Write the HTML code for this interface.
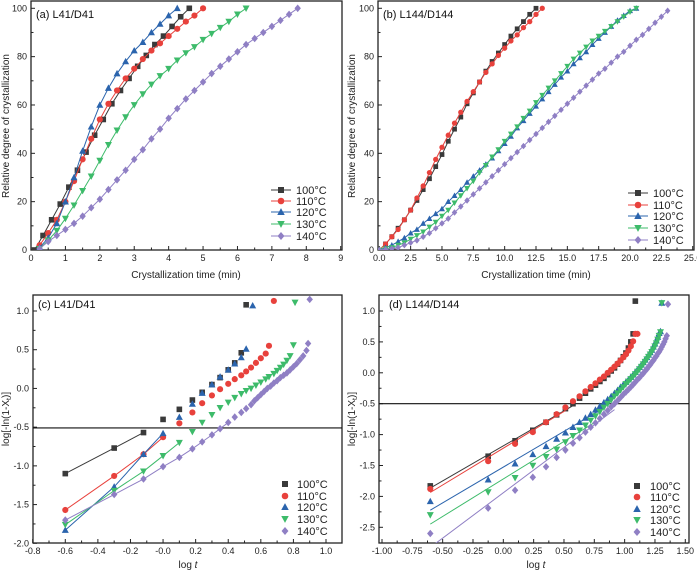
<!DOCTYPE html>
<html><head><meta charset="utf-8"><style>
html,body{margin:0;padding:0;background:#fff}
svg{display:block;font-family:"Liberation Sans",Arial,sans-serif}
</style></head><body>
<svg id="fig" width="697" height="573" viewBox="0 0 697 573" xmlns="http://www.w3.org/2000/svg"></svg>
<script>
const seriesNames = ["100°C","110°C","120°C","130°C","140°C"];
const seriesColors = ["#3a3a3a","#e8413c","#2b64ad","#3dbb6a","#8f7fc4"];
const seriesShapes = ["square","circle","tri-up","tri-down","diamond"];

// Panel (a): time starts / step, relative crystallinity (%)
const aStart = [0.1, 0.25, 0.25, 0.25, 0.25];
const aStep = [0.25, 0.25, 0.25, 0.25, 0.25];
const aVal100 = [0,6,12.5,19,26,33,40.5,47.5,54,60.5,66,71,76,80.5,85,88.5,92.5,96.5,100];
const aVal110 = [2,7,12.5,20,28.5,37.5,46,54,60.5,66,71,75,79,82.5,85.5,88.5,91.5,94.5,97,100];
const aVal120 = [1,5,11,20,30,41,51,60,67,73,78,82.5,86,90,93.5,97,100];
const aVal130 = [0.5,4,8,13,18.5,24.5,30.5,37,43.5,49.5,55,60,64.5,68.5,72,75,78.5,81.5,84,87,89.5,92,94.5,97.5,100];
const aVal140 = [0.5,3.5,6,8.5,11,14,17.5,21,25,29,33,37.5,41.5,46,50,54.5,58.5,62.5,66,69.5,73,76,79,82,85,87.5,90,92.5,95,97.5,100];

// Panel (b)
const bStart = [0, 0, 0, 0, 0];
const bStep = [0.5, 0.5, 0.5, 0.5, 0.5];
const bVal100 = [0,2.5,5.5,9,12.5,16.5,20.5,25,29.5,34.5,39.5,45,50,55,60.5,65,69.5,74,78,81.5,85,88.5,91.5,94.5,97.5,100];
const bVal110 = [0,2.5,5.5,8.5,12.5,16.5,21.5,26.5,32,37.5,42.5,47.5,52.5,57,61.5,65.5,69.5,73.5,77,80.5,83.5,86.5,89,92,94.5,97.5,100];
const bVal120 = [0,1,2,3.5,5,7,8.5,11,13,15,17,20,22.5,25,28,30.5,33,35.5,38,41,44,47,50.5,53.5,56.5,59.5,62.5,65.5,68.5,71.5,74,77,79.5,82,85,87.5,90,92.5,95,97,99,100];
const bVal130 = [0,0.5,1,2,3,4.5,6,7.5,9.5,11.5,14,16.5,19.5,22.5,25.5,28.5,32,35,38.5,41.5,45,48,51,54.5,57.5,61,64,67,70,73,76,79,81.5,84,86.5,88.5,90.5,92.5,94.5,96.5,98.5,100];
const bVal140 = [0,0.2,0.5,1,2,3,4,5.5,7,9,11,13,15.5,18,20.5,23,25.5,28,30.5,33,35.5,38,40.5,43,45.5,48,50.5,53,55.5,58,60.5,63,65.5,68,70.5,73,75,77.5,80,82,84.5,87,89,91.5,94,96.5,99];

// Panel (c): log t positions and log[-ln(1-Xt)]
const cX100 = [-0.6,-0.3,-0.12,0,0.1,0.18,0.24,0.3,0.35,0.4,0.44,0.48,0.51];
const cY100 = [-1.1,-0.77,-0.57,-0.4,-0.27,-0.15,-0.05,0.05,0.14,0.24,0.33,0.46,1.08];
const cX110 = [-0.6,-0.3,-0.12,0,0.1,0.18,0.24,0.3,0.35,0.4,0.44,0.48,0.51,0.54,0.57,0.6,0.63,0.65,0.68];
const cY110 = [-1.57,-1.13,-0.85,-0.63,-0.45,-0.31,-0.19,-0.09,-0.01,0.06,0.12,0.17,0.22,0.27,0.33,0.39,0.45,0.55,1.13];
const cX120 = [-0.6,-0.3,-0.12,0,0.1,0.18,0.24,0.3,0.35,0.4,0.44,0.48,0.51,0.55];
const cY120 = [-1.83,-1.27,-0.85,-0.58,-0.37,-0.2,-0.06,0.05,0.15,0.24,0.32,0.4,0.51,1.07];
const cX130 = [-0.6,-0.3,-0.12,0,0.1,0.18,0.24,0.3,0.35,0.4,0.44,0.48,0.51,0.54,0.57,0.6,0.63,0.65,0.68,0.7,0.72,0.74,0.76,0.78,0.8,0.81];
const cY130 = [-1.76,-1.32,-1.07,-0.87,-0.7,-0.56,-0.44,-0.34,-0.25,-0.18,-0.12,-0.07,-0.03,0,0.04,0.08,0.12,0.15,0.19,0.23,0.27,0.31,0.36,0.42,0.56,1.11];
const cX140 = [-0.6,-0.3,-0.12,0,0.1,0.18,0.24,0.3,0.35,0.4,0.44,0.48,0.51,0.54,0.56,0.58,0.6,0.62,0.64,0.66,0.68,0.7,0.72,0.74,0.76,0.78,0.8,0.82,0.84,0.86,0.88,0.89,0.9];
const cY140 = [-1.7,-1.37,-1.17,-1.01,-0.89,-0.78,-0.69,-0.6,-0.52,-0.44,-0.37,-0.31,-0.26,-0.21,-0.16,-0.12,-0.08,-0.04,0,0.03,0.07,0.1,0.14,0.17,0.2,0.24,0.28,0.32,0.37,0.42,0.49,0.58,1.15];
const cFitN = [3,4,4,5,10];

// Panel (d): times start 0.25 min step 0.5, values log[-ln(1-Xt)]
const dStart = [0.25,0.25,0.25,0.25,0.25];
const dStep = [0.5,0.5,0.5,0.5,0.5];
const dVal100 = [-1.83,-1.35,-1.1,-0.93,-0.8,-0.68,-0.58,-0.5,-0.41,-0.33,-0.26,-0.2,-0.14,-0.09,-0.03,0.03,0.08,0.14,0.2,0.26,0.32,0.4,0.5,0.63,1.16];
const dVal110 = [-1.88,-1.43,-1.15,-0.96,-0.8,-0.67,-0.56,-0.46,-0.38,-0.3,-0.23,-0.17,-0.11,-0.06,0,0.05,0.1,0.15,0.2,0.25,0.3,0.36,0.43,0.51,0.63,0.63];
const dVal120 = [-2.08,-1.73,-1.47,-1.32,-1.19,-1.07,-0.97,-0.88,-0.8,-0.73,-0.67,-0.6,-0.54,-0.48,-0.43,-0.38,-0.33,-0.28,-0.23,-0.19,-0.15,-0.11,-0.07,-0.03,0.01,0.05,0.09,0.13,0.17,0.21,0.25,0.29,0.33,0.37,0.42,0.47,0.52,0.58,0.64,0.67,1.13];
const dVal130 = [-2.3,-1.93,-1.7,-1.5,-1.36,-1.24,-1.12,-1.02,-0.93,-0.85,-0.77,-0.7,-0.63,-0.56,-0.5,-0.44,-0.38,-0.33,-0.28,-0.23,-0.18,-0.14,-0.1,-0.06,-0.02,0.02,0.06,0.1,0.14,0.18,0.22,0.26,0.3,0.34,0.38,0.43,0.48,0.54,0.6,0.66,1.13];
const dVal140 = [-2.6,-2.19,-1.9,-1.69,-1.52,-1.37,-1.25,-1.14,-1.05,-0.96,-0.88,-0.81,-0.74,-0.67,-0.61,-0.55,-0.5,-0.45,-0.4,-0.35,-0.31,-0.27,-0.23,-0.19,-0.15,-0.11,-0.08,-0.04,-0.01,0.03,0.06,0.1,0.13,0.17,0.2,0.24,0.27,0.31,0.34,0.38,0.42,0.46,0.5,0.55,0.6,1.11];
const dFitN = [8,7,14,12,17];

const NS = "http://www.w3.org/2000/svg";
const svg = document.getElementById("fig");
function mk(tag, attrs, parent){const e=document.createElementNS(NS,tag);for(const k in attrs)e.setAttribute(k,attrs[k]);(parent||svg).appendChild(e);return e;}
function lin(d0,d1,r0,r1){return v=>r0+(v-d0)*(r1-r0)/(d1-d0);}
function marker(g,shape,x,y,s,color){
  let e;
  if(shape==="square") e=mk("rect",{x:x-s,y:y-s,width:2*s,height:2*s,fill:color},g);
  else if(shape==="circle") e=mk("circle",{cx:x,cy:y,r:s*1.1,fill:color},g);
  else if(shape==="tri-up") e=mk("polygon",{points:`${x},${y-s*1.3} ${x-s*1.25},${y+s} ${x+s*1.25},${y+s}`,fill:color},g);
  else if(shape==="tri-down") e=mk("polygon",{points:`${x},${y+s*1.3} ${x-s*1.25},${y-s} ${x+s*1.25},${y-s}`,fill:color},g);
  else e=mk("polygon",{points:`${x},${y-s*1.35} ${x+s*1.15},${y} ${x},${y+s*1.35} ${x-s*1.15},${y}`,fill:color},g);
  return e;
}
function fmt(v,dec){return v.toFixed(dec);}

function panel(cfg){
  const g=mk("g",{});
  
  
  const X=lin(cfg.xd[0],cfg.xd[1],cfg.xr[0],cfg.xr[1]);
  const Y=lin(cfg.yd[0],cfg.yd[1],cfg.yr[0],cfg.yr[1]);
  const f=cfg.frame;
  const clipId="clip-"+cfg.name;
  const cp=mk("clipPath",{id:clipId},g);
  mk("rect",{x:f[0],y:f[1],width:f[2]-f[0],height:f[3]-f[1]},cp);
  // ticks
  const tg=mk("g",{stroke:"#222","stroke-width":1},g);
  
  
  for(let v=cfg.xt[0]; v<=cfg.xt[1]+1e-9; v+=cfg.xt[2]/2){
    const x=X(v); if(x<f[0]-0.5||x>f[2]+0.5) continue;
    const major=Math.abs(Math.round((v-cfg.xt[0])/cfg.xt[2])-(v-cfg.xt[0])/cfg.xt[2])<1e-6;
    mk("line",{x1:x,x2:x,y1:f[3],y2:f[3]-(major?4:2.5)},tg);
    if(major){const t=mk("text",{x:x,y:f[3]+11,"font-size":9,"text-anchor":"middle",fill:"#222"},g);t.textContent=fmt(v,cfg.xdec);
      
      }
  }
  for(let v=cfg.yt[0]; v<=cfg.yt[1]+1e-9; v+=cfg.yt[2]/2){
    const y=Y(v); if(y<f[1]-0.5||y>f[3]+0.5) continue;
    const major=Math.abs(Math.round((v-cfg.yt[0])/cfg.yt[2])-(v-cfg.yt[0])/cfg.yt[2])<1e-6;
    mk("line",{x1:f[0],x2:f[0]+(major?4:2.5),y1:y,y2:y},tg);
    if(major){const t=mk("text",{x:f[0]-4,y:y+3,"font-size":9,"text-anchor":"end",fill:"#222"},g);t.textContent=fmt(v,cfg.ydec);
      
      }
  }
  const fr=mk("rect",{x:f[0],y:f[1],width:f[2]-f[0],height:f[3]-f[1],fill:"none",stroke:"#222","stroke-width":1.3},g);
  
  
  const pg=mk("g",{"clip-path":`url(#${clipId})`},g);
  if(cfg.hline!==undefined){
    const h=mk("line",{x1:f[0],x2:f[2],y1:Y(cfg.hline),y2:Y(cfg.hline),stroke:"#111","stroke-width":1.2},pg);
    
    
  }
  cfg.series.forEach((s,i)=>{
    const sg=mk("g",{},pg);
    
    
    const col=seriesColors[i];
    if(cfg.mode==="line"){
      mk("polyline",{points:s.x.map((x,k)=>X(x)+","+Y(s.y[k])).join(" "),fill:"none",stroke:col,"stroke-width":1},sg);
    } else if(cfg.mode==="poly"){
      const n=cfg.fitN[i];
      mk("polyline",{points:s.x.slice(0,n).map((x,k)=>X(x)+","+Y(s.y[k])).join(" "),fill:"none",stroke:col,"stroke-width":1},sg);
    } else if(cfg.mode==="fit"){
      const n=cfg.fitN[i]; const xs=s.x.slice(0,n), ys=s.y.slice(0,n);
      const mx=xs.reduce((a,b)=>a+b)/n, my=ys.reduce((a,b)=>a+b)/n;
      let sxy=0,sxx=0; xs.forEach((x,k)=>{sxy+=(x-mx)*(ys[k]-my);sxx+=(x-mx)*(x-mx);});
      const b=sxy/sxx, a=my-b*mx;
      mk("line",{x1:X(xs[0]),y1:Y(a+b*xs[0]),x2:X(xs[n-1]),y2:Y(a+b*xs[n-1]),stroke:col,"stroke-width":1},sg);
    }
    s.x.forEach((x,k)=>{const m=marker(sg,seriesShapes[i],X(x),Y(s.y[k]),cfg.ms,col);
      
      });
  });
  // legend
  const lg=mk("g",{},g);
  
  
  seriesNames.forEach((n,i)=>{
    const y=cfg.leg.y[i];
    const eg=mk("g",{},lg);
    
    
    if(cfg.leg.line) mk("line",{x1:cfg.leg.mx-10,x2:cfg.leg.mx+10,y1:y,y2:y,stroke:seriesColors[i],"stroke-width":1},eg);
    marker(eg,seriesShapes[i],cfg.leg.mx,y,3,seriesColors[i]);
    const t=mk("text",{x:cfg.leg.tx,y:y+4,"font-size":11,fill:"#222"},eg);t.textContent=n;
  });
  const tt=mk("text",{x:cfg.title[0],y:cfg.title[1],"font-size":11,fill:"#111"},g);tt.textContent=cfg.titleText;
  
  
  const xt=mk("text",{x:cfg.xlab[0],y:cfg.xlab[1],"font-size":10,"text-anchor":"middle",fill:"#222"},g);
  xt.innerHTML=cfg.xlabText;
  
  
  const yt=mk("text",{x:0,y:0,"font-size":10,"text-anchor":"middle",fill:"#222",transform:`translate(${cfg.ylab[0]},${cfg.ylab[1]}) rotate(-90)`},g);
  yt.innerHTML=cfg.ylabText;
  
  
}
function byStep(start,step,vals){return {x:vals.map((v,k)=>start+k*step),y:vals};}
function byLog(start,step,vals){return {x:vals.map((v,k)=>Math.log10(start+k*step)),y:vals};}

const aVals=[aVal100,aVal110,aVal120,aVal130,aVal140];
const bVals=[bVal100,bVal110,bVal120,bVal130,bVal140];
const dVals=[dVal100,dVal110,dVal120,dVal130,dVal140];
const cXs=[cX100,cX110,cX120,cX130,cX140], cYs=[cY100,cY110,cY120,cY130,cY140];

panel({name:"panel-a",xd:[0,9],xr:[31,340.7],yd:[0,100],yr:[250,8.3],frame:[31,1,342,250],
  xt:[0,9,1],yt:[0,100,20],xdec:0,ydec:0,mode:"line",ms:2.8,
  series:aVals.map((v,i)=>byStep(aStart[i],aStep[i],v)),
  leg:{line:true,mx:281,tx:296,y:[190,201,212,224,236]},title:[36,18],titleText:"(a) L41/D41",
  xlab:[186,278],xlabText:"Crystallization time (min)",ylab:[9,126],ylabText:"Relative degree of crystallization"});
panel({name:"panel-b",xd:[0,25],xr:[379.3,692.7],yd:[0,100],yr:[250,8.3],frame:[378,1,694,250],
  xt:[0,25,2.5],yt:[0,100,20],xdec:1,ydec:0,mode:"line",ms:2.4,
  series:bVals.map((v,i)=>byStep(bStart[i],bStep[i],v)),
  leg:{line:true,mx:638,tx:653,y:[193,205,216,228,240]},title:[383,18],titleText:"(b) L144/D144",
  xlab:[536,278],xlabText:"Crystallization time (min)",ylab:[355,126],ylabText:"Relative degree of crystallization"});
panel({name:"panel-c",xd:[-0.8,1.0],xr:[32.7,326],yd:[-2,1],yr:[543.3,311],frame:[33,295,342,543],
  xt:[-0.8,1.0,0.2],yt:[-2,1,0.5],xdec:1,ydec:1,mode:"poly",fitN:cFitN,ms:2.8,hline:-0.51,
  series:cXs.map((x,i)=>({x:x,y:cYs[i]})),
  leg:{line:false,mx:285,tx:297,y:[484,496,507,519,531]},title:[38,308],titleText:"(c) L41/D41",
  xlab:[188,568],xlabText:"log <tspan font-style='italic'>t</tspan>",ylab:[9,419],ylabText:"log[-ln(1-X<tspan font-size='7' dy='2'>t</tspan><tspan dy='-2'>)]</tspan>"});
panel({name:"panel-d",xd:[-1,1.5],xr:[382,685.3],yd:[-2.5,1],yr:[527.3,311],frame:[379,295,689,543],
  xt:[-1,1.5,0.25],yt:[-2.5,1,0.5],xdec:2,ydec:1,mode:"fit",fitN:dFitN,ms:2.8,hline:-0.5,
  series:dVals.map((v,i)=>byLog(dStart[i],dStep[i],v)),
  leg:{line:false,mx:637,tx:650,y:[486,497,509,520,532]},title:[389,308],titleText:"(d) L144/D144",
  xlab:[536,568],xlabText:"log <tspan font-style='italic'>t</tspan>",ylab:[355,419],ylabText:"log[-ln(1-X<tspan font-size='7' dy='2'>t</tspan><tspan dy='-2'>)]</tspan>"});
</script>
</body></html>
